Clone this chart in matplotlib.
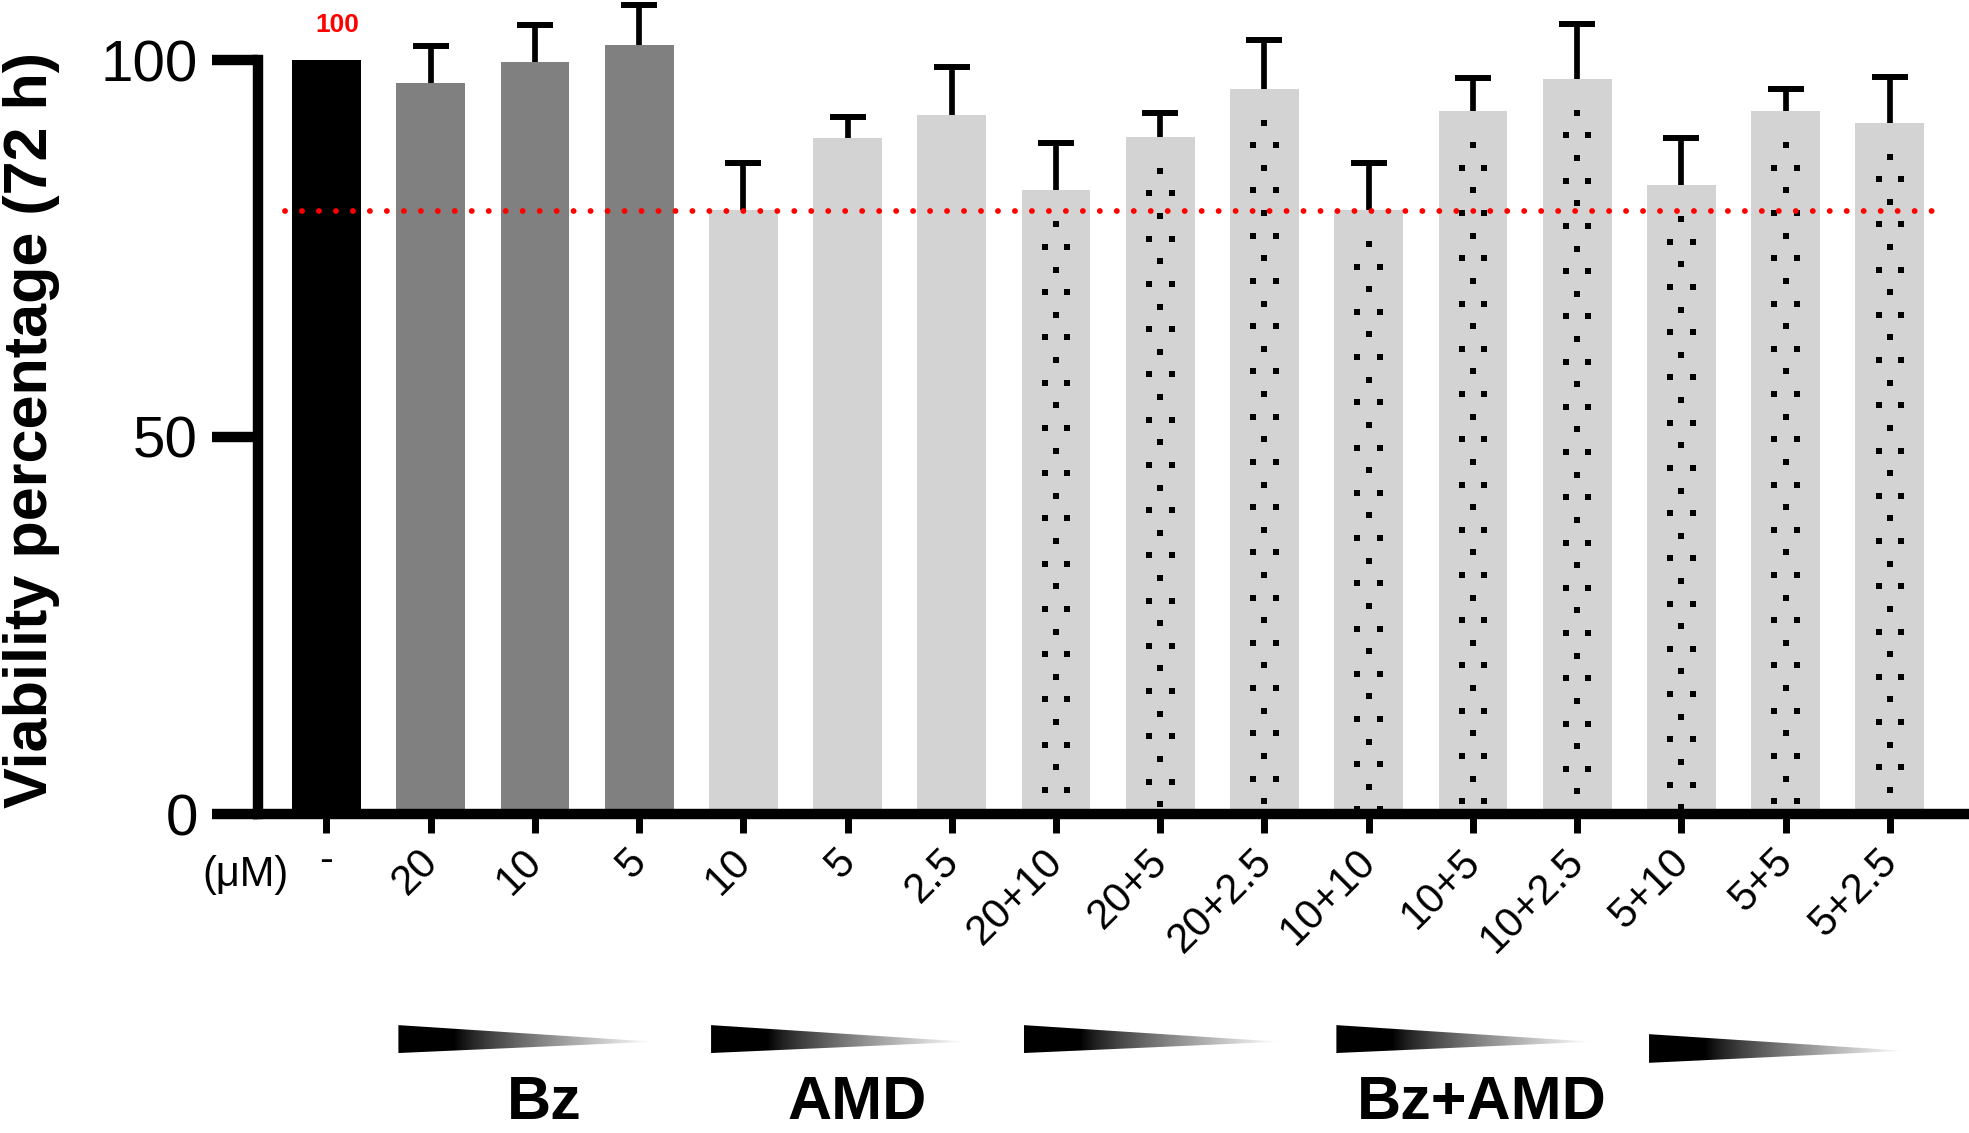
import numpy as np
import matplotlib.pyplot as plt
from matplotlib.patches import Polygon
from matplotlib.transforms import ScaledTranslation, blended_transform_factory

plt.rcParams['font.family'] = ['Liberation Sans', 'DejaVu Sans']

# Data
labels = ['-', '20', '10', '5', '10', '5', '2.5',
          '20+10', '20+5', '20+2.5', '10+10', '10+5', '10+2.5',
          '5+10', '5+5', '5+2.5']
viability = [100, 97.0, 99.8, 102.0, 80.1, 89.7, 92.7,
             82.7, 89.8, 96.2, 80.1, 93.2, 97.5, 83.4, 93.2, 91.7]
sd = [0, 4.9, 4.8, 5.3, 6.2, 2.8, 6.4,
      6.3, 3.2, 6.5, 6.2, 4.4, 7.3, 6.3, 2.9, 6.1]
groups = ['control', 'Bz', 'Bz', 'Bz', 'AMD', 'AMD', 'AMD'] + ['combo'] * 9
group_colors = {'control': '#000000', 'Bz': '#808080', 'AMD': '#d3d3d3', 'combo': '#d3d3d3'}
threshold = 80
ramps = [(1, 3), (4, 6), (7, 9), (10, 12), (13, 15)]
group_names = [('Bz', 1, 3), ('AMD', 4, 6), ('Bz+AMD', 7, 15)]

W, H = 1969, 1133
fig = plt.figure(figsize=(W / 100, H / 100), dpi=100)
ax = fig.add_axes([257.5 / W, 1 - 814 / H, 1 - 257.5 / W, (814 - 60) / H])

x = np.arange(len(labels))
colors = [group_colors[g] for g in groups]
ax.bar(x, viability, width=0.66, color=colors, zorder=2, clip_on=False)

# upper error bars only
v = np.array(viability)
e = np.array(sd)
eb = ax.errorbar(x[1:], v[1:], yerr=[np.zeros(len(x) - 1), e[1:]], fmt='none',
                 ecolor='black', elinewidth=4.1, capsize=13, capthick=4.3, zorder=1)
for art in eb.get_children():
    art.set_clip_on(False)
eb.lines[1][0].set_visible(False)  # drop the cap sitting on the bar top

# dotted fill pattern on combination bars
for i, g in enumerate(groups):
    if g != 'combo':
        continue
    ys = np.arange(viability[i] - 4.5, 0, -3.0)
    for k, yy in enumerate(ys):
        xs = [x[i]] if k % 2 == 0 else [x[i] - 0.108, x[i] + 0.108]
        ax.plot(xs, [yy] * len(xs), 's', color='black', ms=3.9, mew=0, zorder=3, clip_on=False)

ax.plot([-0.4, 15.45], [threshold, threshold], color='red', lw=4.2,
        linestyle=(0, (0.01, 2.9)), dash_capstyle='round', zorder=4, clip_on=False)
ax.text(0.1, 104.6, '100', color='red', fontsize=19, fontweight='bold',
        ha='center', va='center')

ax.set_xlim(-0.662, 15.76)
ax.set_ylim(0, 100)
for s in ['top', 'right']:
    ax.spines[s].set_visible(False)
ax.spines['left'].set_linewidth(7.5)
ax.spines['bottom'].set_linewidth(7.5)
ax.spines['left'].set_bounds(0, 100)
ax.spines['left'].set_zorder(5)
ax.spines['bottom'].set_zorder(5)

ax.set_yticks([0, 50, 100])
ax.tick_params(axis='y', length=33, width=7.5, labelsize=42, pad=10)
ax.set_xticks(x)
ax.set_xticklabels(labels)
ax.tick_params(axis='x', length=13.7, width=5, labelsize=30, pad=6)

shift = ScaledTranslation(-0.13, 0, fig.dpi_scale_trans)
for i, lab in enumerate(ax.get_xticklabels()):
    if i == 0:
        lab.set_ha('center')
        lab.set_va('top')
    else:
        lab.set_rotation(45)
        lab.set_rotation_mode('anchor')
        lab.set_ha('right')
        lab.set_va('top')
        lab.set_transform(lab.get_transform() + shift)

ax.text(-0.78, -8.1, '(μM)', fontsize=30, ha='center', va='center')

fig.text(47 / W, 1 - 430 / H, 'Viability percentage (72 h)', fontsize=44,
         fontweight='bold', rotation=90, rotation_mode='anchor',
         ha='center', va='baseline')

# gradient wedges under each concentration group
ov = fig.add_axes([0, 0, 1, 1], zorder=-1)
ov.set_xlim(0, W)
ov.set_ylim(0, H)
ov.axis('off')
t = np.linspace(0, 1, 400)
grad = np.clip((t - 0.22) / 0.78, 0, 1) ** 0.8
grad = np.tile(grad, (10, 1))
for k, (a, b) in enumerate(ramps):
    top, bot, apex = (-28.0, -31.7, -30.2) if k < 4 else (-29.2, -33.0, -31.4)
    p0 = ax.transData.transform((a - 0.31, top))
    p1 = ax.transData.transform((b + 0.14, apex))
    p2 = ax.transData.transform((a - 0.31, bot))
    poly = Polygon([p0, p1, p2], closed=True, transform=ov.transData,
                   facecolor='none', edgecolor='none')
    ov.add_patch(poly)
    im = ov.imshow(grad, cmap='gray', vmin=0, vmax=1, aspect='auto',
                   extent=[p0[0], p1[0], p2[1], p0[1]], interpolation='bilinear')
    im.set_clip_path(poly)
ov.set_xlim(0, W)
ov.set_ylim(0, H)

btrans = blended_transform_factory(ax.transData, fig.transFigure)
for name, a, b in group_names:
    ax.text((a + b) / 2 + 0.09, 14 / H, name, fontsize=44, fontweight='bold',
            ha='center', va='baseline', transform=btrans)

fig.savefig('out.png', dpi=100)
